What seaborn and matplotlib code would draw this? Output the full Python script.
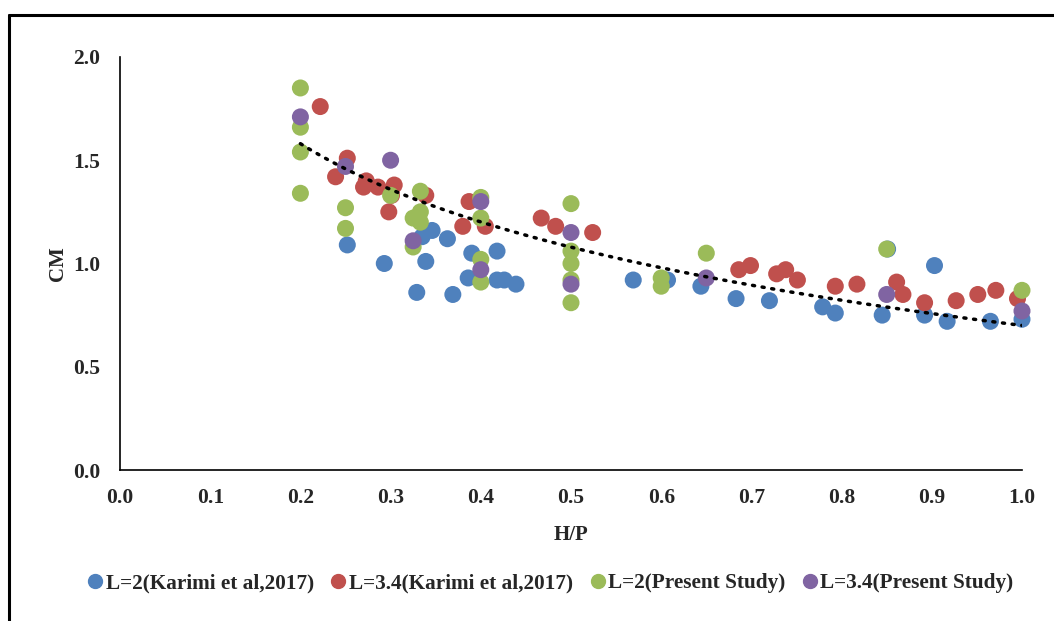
import numpy as np
import pandas as pd
import matplotlib
matplotlib.use('Agg')
import matplotlib.pyplot as plt
import seaborn as sns
from matplotlib.lines import Line2D

# series
karimi_l2_hp = [0.252, 0.293, 0.329, 0.335, 0.339, 0.346, 0.363, 0.369, 0.386, 0.390,
                0.418, 0.418, 0.426, 0.439, 0.569, 0.607, 0.644, 0.683, 0.720, 0.779,
                0.793, 0.845, 0.851, 0.903, 0.892, 0.917, 0.965, 1.000]
karimi_l2_cm = [1.09, 1.00, 0.86, 1.13, 1.01, 1.16, 1.12, 0.85, 0.93, 1.05,
                1.06, 0.92, 0.92, 0.90, 0.92, 0.92, 0.89, 0.83, 0.82, 0.79,
                0.76, 0.75, 1.07, 0.99, 0.75, 0.72, 0.72, 0.73]

karimi_l34_hp = [0.222, 0.252, 0.239, 0.273, 0.270, 0.286, 0.298, 0.304, 0.301, 0.339,
                 0.380, 0.387, 0.405, 0.467, 0.483, 0.524, 0.686, 0.699, 0.728, 0.738,
                 0.751, 0.793, 0.817, 0.861, 0.868, 0.892, 0.927, 0.951, 0.971, 0.995]
karimi_l34_cm = [1.76, 1.51, 1.42, 1.40, 1.37, 1.37, 1.25, 1.38, 1.33, 1.33,
                 1.18, 1.30, 1.18, 1.22, 1.18, 1.15, 0.97, 0.99, 0.95, 0.97,
                 0.92, 0.89, 0.90, 0.91, 0.85, 0.81, 0.82, 0.85, 0.87, 0.83]

present_l2_hp = [0.2, 0.2, 0.2, 0.2, 0.25, 0.25, 0.30, 0.333, 0.333, 0.325, 0.333, 0.325,
                 0.40, 0.40, 0.40, 0.40, 0.50, 0.50, 0.50, 0.50, 0.50,
                 0.60, 0.60, 0.65, 0.85, 1.0]
present_l2_cm = [1.85, 1.66, 1.54, 1.34, 1.27, 1.17, 1.33, 1.35, 1.25, 1.22, 1.20, 1.08,
                 1.32, 1.22, 1.02, 0.91, 1.29, 1.06, 1.00, 0.92, 0.81,
                 0.93, 0.89, 1.05, 1.07, 0.87]

present_l34_hp = [0.2, 0.25, 0.30, 0.325, 0.40, 0.40, 0.50, 0.50, 0.65, 0.85, 1.0]
present_l34_cm = [1.71, 1.47, 1.50, 1.11, 1.30, 0.97, 1.15, 0.90, 0.93, 0.85, 0.77]

# logarithmic trendline: cm = a + b*ln(hp)
trend_a = 0.70
trend_b = -0.547
trend_range = [0.2, 1.0]

labels = ['L=2(Karimi et al,2017)', 'L=3.4(Karimi et al,2017)',
          'L=2(Present Study)', 'L=3.4(Present Study)']
colors = ['#4F81BD', '#C0504D', '#9BBB59', '#8064A2']

xs = [karimi_l2_hp, karimi_l34_hp, present_l2_hp, present_l34_hp]
ys = [karimi_l2_cm, karimi_l34_cm, present_l2_cm, present_l34_cm]
df = pd.concat([pd.DataFrame({'hp': x, 'cm': y, 'series': lab})
                for x, y, lab in zip(xs, ys, labels)], ignore_index=True)

sns.set_style('white')
plt.rcParams['font.family'] = ['Liberation Serif', 'DejaVu Serif']
plt.rcParams['font.weight'] = 'bold'

fig = plt.figure(figsize=(10.54, 6.21), dpi=100)
ax = fig.add_axes([120 / 1054, 1 - 470 / 621, 902 / 1054, 413 / 621])

sns.scatterplot(data=df, x='hp', y='cm', hue='series', hue_order=labels,
                palette=colors, s=150, linewidth=0, alpha=1, ax=ax, legend=False)

xt = np.linspace(trend_range[0], trend_range[1], 200)
ax.plot(xt, trend_a + trend_b * np.log(xt), color='black', lw=2.5,
        linestyle=(0, (0.6, 2.2)), dash_capstyle='round', zorder=5)

ax.set_xlim(0, 1.0)
ax.set_ylim(0, 2.0)
ax.set_xticks(np.arange(0, 1.01, 0.1))
ax.set_yticks(np.arange(0, 2.01, 0.5))
ax.xaxis.set_major_formatter(matplotlib.ticker.FormatStrFormatter('%.1f'))
ax.yaxis.set_major_formatter(matplotlib.ticker.FormatStrFormatter('%.1f'))
ax.tick_params(axis='x', labelsize=15.5, length=0, pad=13)
ax.tick_params(axis='y', labelsize=15.5, length=0, pad=14)
for t in ax.get_xticklabels() + ax.get_yticklabels():
    t.set_fontweight('bold')
ax.set_xlabel('H/P', fontsize=15, fontweight='bold', labelpad=12)
ax.set_ylabel('CM', fontsize=15, fontweight='bold', labelpad=3.5)
for side in ['top', 'right']:
    ax.spines[side].set_visible(False)
for side in ['left', 'bottom']:
    ax.spines[side].set_color('black')
    ax.spines[side].set_linewidth(1.2)
for c in ax.collections:
    c.set_clip_on(False)

handles = [Line2D([], [], marker='o', linestyle='', color=c, markersize=10) for c in colors]
fig.legend(handles, labels, loc='center', bbox_to_anchor=(0.52, 1 - 583 / 621), ncol=4,
           frameon=False, handletextpad=-0.1, columnspacing=0.55, handlelength=1.2,
           prop={'weight': 'bold', 'size': 15.3})

# outer chart frame
fig.add_artist(Line2D([8.5 / 1054, 8.5 / 1054], [0, 1 - 14.5 / 621], color='black', lw=2.2,
                      transform=fig.transFigure))
fig.add_artist(Line2D([8.5 / 1054, 1], [1 - 14.5 / 621, 1 - 14.5 / 621], color='black', lw=2.2,
                      transform=fig.transFigure))

fig.savefig('out.png', dpi=100)
